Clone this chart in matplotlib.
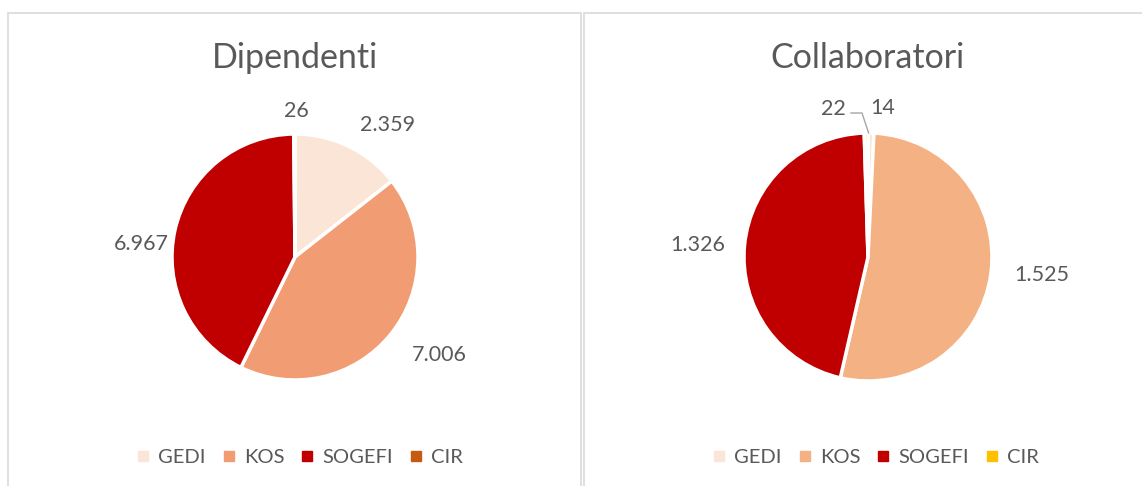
import matplotlib.pyplot as plt
import numpy as np
from matplotlib.patches import Rectangle
from matplotlib.lines import Line2D

plt.rcParams['font.family'] = ['Lato', 'DejaVu Sans']

# Data
societa = ['GEDI', 'KOS', 'SOGEFI', 'CIR']
dipendenti = [2359, 7006, 6967, 26]
collaboratori = [22, 1525, 1326, 14]

col_dip = ['#FBE5D6', '#F19C72', '#C00000', '#C55A11']
col_col = ['#FBE5D6', '#F4B183', '#C00000', '#FFC000']

grigio = '#595959'
W, H = 1142, 486

fig = plt.figure(figsize=(W / 100, H / 100), dpi=100)

# chart boxes (pixel coords, y from top)
for x0, x1 in [(8, 581), (584, 1150)]:
    fig.patches.append(Rectangle((x0 / W, -0.05), (x1 - x0) / W, 1 - 13 / H + 0.05,
                                 transform=fig.transFigure, fill=False,
                                 edgecolor='#D9D9D9', linewidth=1.2))


def fmt(v):
    return f'{v:,}'.replace(',', '.')


def torta(cx, cy, r, valori, colori, titolo, pos_etich, leg_x):
    ax = fig.add_axes([0, 0, 1, 1])
    ax.axis('off')
    ax.patch.set_alpha(0)
    ax.pie(valori, colors=colori, startangle=90, counterclock=False, radius=1,
           wedgeprops=dict(edgecolor='white', linewidth=2.5))
    ax.set_xlim(-cx / r, (W - cx) / r)
    ax.set_ylim(-(H - cy) / r, cy / r)
    ax.set_aspect('auto')
    for v, (th, d) in zip(valori, pos_etich):
        t = np.deg2rad(th)
        ax.text(d * np.sin(t), d * np.cos(t), fmt(v), ha='center', va='center',
                fontsize=15.5, color=grigio)
    ax.text(0, (cy - 58) / r, titolo, ha='center', va='center', fontsize=24.5,
            color=grigio)
    handles = [Line2D([], [], marker='s', linestyle='', markersize=6.5,
                      markerfacecolor=c, markeredgecolor=c) for c in colori]
    fig.legend(handles, societa, loc='center', bbox_to_anchor=(leg_x / W, 1 - 457 / H),
               ncol=4, frameon=False, fontsize=14.5, labelcolor=grigio,
               handlelength=0.6, handletextpad=0.45, columnspacing=0.85)
    return ax


torta(295, 257, 123, dipendenti, col_dip, 'Dipendenti',
      [(35, 1.31), (124, 1.42), (275, 1.25), (0.4, 1.19)], 300)
ax2 = torta(868, 257, 124, collaboratori, col_col, 'Collaboratori',
            [(346.8, 1.23), (96, 1.41), (274, 1.38), (5.7, 1.21)], 876)

# leader line for the small GEDI slice
ax2.plot([-17 / 124, -6 / 124, 0.005], [144 / 124, 144 / 124, 1.0],
         color='#A6A6A6', linewidth=1)

fig.savefig('out.png', dpi=100)
